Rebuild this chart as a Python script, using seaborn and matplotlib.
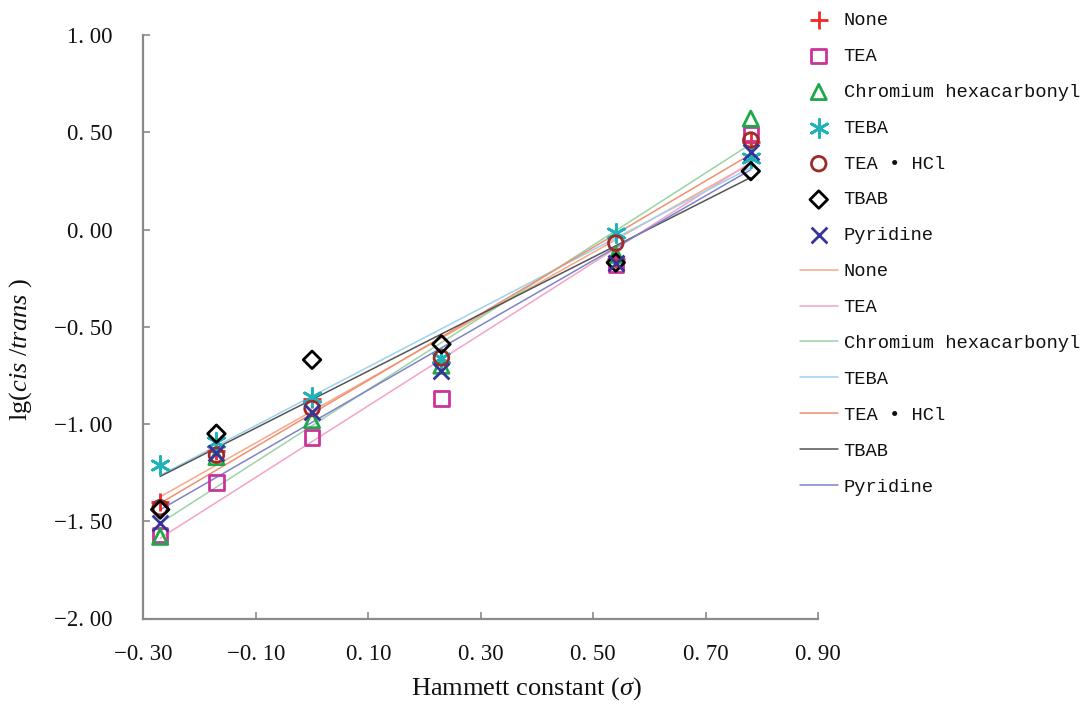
import matplotlib
matplotlib.use("Agg")
import matplotlib.pyplot as plt
import seaborn as sns
import numpy as np
import pandas as pd
from matplotlib.ticker import FixedLocator, FuncFormatter

sns.set_theme(style="white")
plt.rcParams['font.family'] = ['Liberation Serif', 'DejaVu Serif']
plt.rcParams['mathtext.fontset'] = 'custom'
plt.rcParams['mathtext.rm'] = 'Liberation Serif'
plt.rcParams['mathtext.it'] = 'Liberation Serif:italic'

# ---- data ----
sigma = [-0.27, -0.17, 0.00, 0.23, 0.54, 0.78]
series_names = ["None", "TEA", "Chromium hexacarbonyl", "TEBA", "TEA\u2022HCl", "TBAB", "Pyridine"]
legend_names = ["None", "TEA", "Chromium hexacarbonyl", "TEBA", "TEA \u2022 HCl", "TBAB", "Pyridine"]
none_vals = [-1.40, -1.14, -0.87, -0.68, -0.15, 0.45]
tea_vals = [-1.57, -1.30, -1.07, -0.87, -0.18, 0.49]
chromium_vals = [-1.58, -1.17, -0.98, -0.70, -0.13, 0.57]
teba_vals = [-1.21, -1.09, -0.86, -0.66, -0.02, 0.37]
tea_hcl_vals = [-1.43, -1.16, -0.92, -0.66, -0.07, 0.46]
tbab_vals = [-1.44, -1.05, -0.67, -0.59, -0.17, 0.30]
pyridine_vals = [-1.51, -1.15, -0.94, -0.73, -0.17, 0.40]
all_vals = [none_vals, tea_vals, chromium_vals, teba_vals, tea_hcl_vals, tbab_vals, pyridine_vals]

x_ticks = [-0.30, -0.10, 0.10, 0.30, 0.50, 0.70, 0.90]
y_ticks = [-2.00, -1.50, -1.00, -0.50, 0.00, 0.50, 1.00]

# ---- styles ----
marker_colors = ["#F02828", "#CC3399", "#1FA84A", "#20B2BA", "#9E2A2A", "#000000", "#34349A"]
markers = ["+", "s", "^", (6, 2, 0), "o", "D", "x"]
filled = [False, True, True, False, True, True, False]
sizes = [150, 110, 120, 170, 110, 80, 130]
line_colors = ["#F7A889", "#F5A3C7", "#9AD4A6", "#9CD2F0", "#F09070", "#555555", "#7F83C9"]

fig = plt.figure(figsize=(10.86, 7.08), dpi=100)
ax = fig.add_axes([143.3 / 1086, 1 - 618.5 / 708, 675 / 1086, 583.5 / 708])

line_handles = []
for name, vals, lc in zip(series_names, all_vals, line_colors):
    df = pd.DataFrame({"sigma": sigma, "v": vals})
    sns.regplot(data=df, x="sigma", y="v", scatter=False, ci=None, truncate=True,
                color=lc, line_kws={"lw": 1.1, "zorder": 2}, ax=ax)
    line_handles.append(ax.lines[-1])

marker_handles = []
for name, vals, mc, mk, fl, sz in zip(series_names, all_vals, marker_colors, markers, filled, sizes):
    df = pd.DataFrame({"sigma": sigma, "v": vals})
    if fl:
        sns.scatterplot(data=df, x="sigma", y="v", marker=mk, s=sz, facecolor="none",
                        edgecolor=mc, linewidth=2.0, zorder=3, ax=ax)
    else:
        sns.scatterplot(data=df, x="sigma", y="v", marker=mk, s=sz, color=mc,
                        linewidth=2.0, zorder=3, ax=ax)
    marker_handles.append(ax.collections[-1])

ax.set_xlim(-0.30, 0.90)
ax.set_ylim(-2.00, 1.00)
ax.xaxis.set_major_locator(FixedLocator(x_ticks))
ax.yaxis.set_major_locator(FixedLocator(y_ticks))

def fmt(v, pos=None):
    s = f"{abs(v):.2f}".replace(".", ". ")
    return ("\u2212" + s) if v < -1e-9 else s

ax.xaxis.set_major_formatter(FuncFormatter(fmt))
ax.yaxis.set_major_formatter(FuncFormatter(fmt))

for sp in ["top", "right"]:
    ax.spines[sp].set_visible(False)
for sp in ["left", "bottom"]:
    ax.spines[sp].set_color("#8a8a8a")
    ax.spines[sp].set_linewidth(1.6)

ax.tick_params(axis="both", direction="in", length=5, width=1.2, color="#8a8a8a",
               labelsize=16.5, labelcolor="#111111")
ax.tick_params(axis="y", pad=22, left=True)
ax.tick_params(axis="x", pad=18, bottom=True)

ax.set_xlabel(r"Hammett constant ($\sigma$)", fontsize=19, color="#111111")
ax.set_ylabel(r"lg($\it{cis}$ /$\it{trans}$ )", fontsize=19, color="#111111")
ax.xaxis.set_label_coords((526 - 143.3) / 675, -(675 - 618.5) / 583.5)
ax.yaxis.set_label_coords((34 - 143.3) / 675, 1 - (350 - 35) / 583.5)

handles = marker_handles + line_handles
labels = legend_names + legend_names
leg = fig.legend(handles, labels, loc="upper left", bbox_to_anchor=(800 / 1086, 1 - 12 / 708),
                 frameon=False, borderpad=0, borderaxespad=0, handlelength=2.0,
                 handletextpad=0.32, labelspacing=1.0, scatterpoints=1,
                 prop={"family": "Liberation Mono", "size": 13.5})
for t in leg.get_texts():
    t.set_color("#111111")

fig.savefig("out.png", dpi=100)
